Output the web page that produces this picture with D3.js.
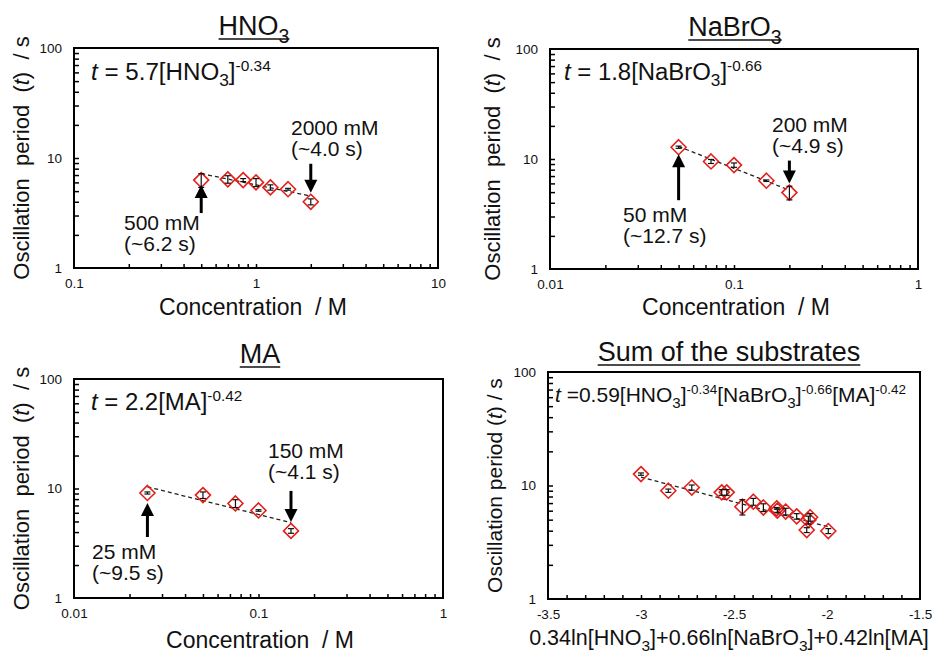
<!DOCTYPE html>
<html><head><meta charset="utf-8">
<script src="https://cdn.jsdelivr.net/npm/d3@7"></script>
<style>
body{margin:0;background:#fff;}
text{font-family:"Liberation Sans",Arial,sans-serif;fill:#111;}
</style></head><body>
<svg id="c" width="934" height="653"></svg>
<script>
// ---------- data ----------
const hno3Conc   = [0.5, 0.7, 0.85, 1.0, 1.2, 1.5, 2.0];
const hno3Period = [6.3, 6.4, 6.3, 6.0, 5.4, 5.2, 4.0];
const hno3Err    = [0.9, 0.5, 0.2, 0.5, 0.3, 0.1, 0.25];

const nabro3Conc   = [0.05, 0.075, 0.1, 0.15, 0.2];
const nabro3Period = [12.8, 9.5, 8.8, 6.35, 4.95];
const nabro3Err    = [0.3, 0.4, 0.4, 0.1, 0.7];

const maConc   = [0.025, 0.05, 0.075, 0.1, 0.15];
const maPeriod = [9.1, 8.7, 7.3, 6.3, 4.1];
const maErr    = [0.2, 0.6, 0.6, 0.1, 0.2];

const sumX      = [-3.0, -2.853, -2.727, -2.566, -2.539, -2.455, -2.396, -2.342, -2.27, -2.267, -2.222, -2.163, -2.091, -2.10, -2.109, -1.993];
const sumPeriod = [12.6, 9.0, 9.6, 8.7, 8.7, 6.5, 7.2, 6.4, 6.3, 6.0, 5.9, 5.35, 5.25, 4.97, 4.05, 3.97];
const sumErr    = [0.3, 0.3, 0.5, 0.5, 0.5, 1.0, 0.5, 0.5, 0.1, 0.2, 0.4, 0.3, 0.4, 0.4, 0.2, 0.2];

// power-law fits t = A * c^B  (sum panel: t = A * exp(-X))
const fitA = [5.7, 1.8, 2.2, 0.59];
const fitB = [-0.34, -0.66, -0.42, -1];

const yTickLabels = [1, 10, 100];
const xTickLabelsHNO3 = [0.1, 1, 10];
const xTickLabelsNaBrO3 = [0.01, 0.1, 1];
const xTickLabelsMA = [0.01, 0.1, 1];
const xTickLabelsSum = [-3.5, -3, -2.5, -2, -1.5];

// ---------- drawing ----------
const svg = d3.select("#c");
const RED = "#e3201b";

function logMinor(lo, hi){
  const out=[];
  for(let d=lo; d<hi; d*=10){ for(let k=1;k<10;k++){ const v=+(d*k).toPrecision(3); if(v>lo && v<hi) out.push(v);} }
  return out;
}

function rich(g, x, y, parts, size, anchor, stretch){
  const t = g.append("text").attr("font-size",size)
    .attr("text-anchor",anchor||"start").style("white-space","pre");
  if(stretch){ t.attr("x",0).attr("y",0).attr("transform",`translate(${x},${y}) scale(${stretch},1)`); }
  else { t.attr("x",x).attr("y",y); }
  let shift=0;
  parts.forEach(p=>{
    const ts = t.append("tspan").text(p.t);
    let target=0;
    if(p.s==="sub"){ target=size*0.28; ts.attr("font-size",size*0.72); }
    else if(p.s==="sup"){ target=-size*0.4; ts.attr("font-size",size*0.64); }
    if(p.i) ts.attr("font-style","italic");
    ts.attr("dy", target-shift); shift=target;
  });
  return t;
}

function arrow(g, x, yTail, yTip){
  const dir = yTip>yTail ? 1 : -1;
  const head = 13, hw = 6.5;
  g.append("line").attr("x1",x).attr("x2",x).attr("y1",yTail).attr("y2",yTip-dir*head+dir*1)
    .attr("stroke","#000").attr("stroke-width",3);
  g.append("path").attr("d",`M${x},${yTip} L${x-hw},${yTip-dir*head} L${x+hw},${yTip-dir*head} Z`).attr("fill","#000");
}

function panel(cfg){
  const g = svg.append("g");
  const x = cfg.log ? d3.scaleLog().domain(cfg.xDomain).range([cfg.x0,cfg.x1])
                    : d3.scaleLinear().domain(cfg.xDomain).range([cfg.x0,cfg.x1]);
  const y = d3.scaleLog().domain([1,100]).range([cfg.y1,cfg.y0]);

  // minor/major inward ticks
  g.append("g").attr("transform",`translate(${cfg.x0},0)`)
    .call(d3.axisLeft(y).tickValues(logMinor(1,100)).tickSize(-5).tickFormat(""))
    .call(a=>a.select(".domain").remove())
    .selectAll("line").attr("stroke","#000").attr("stroke-width",1.5);
  const xt = cfg.log ? logMinor(cfg.xDomain[0],cfg.xDomain[1]) : d3.range(-3.4,-1.55,0.1).map(v=>+v.toFixed(1));
  g.append("g").attr("transform",`translate(0,${cfg.y1})`)
    .call(d3.axisBottom(x).tickValues(xt).tickSize(-4).tickFormat(""))
    .call(a=>a.select(".domain").remove())
    .selectAll("line").attr("stroke","#000").attr("stroke-width",1.5);

  // tick labels
  g.append("g").attr("transform",`translate(${cfg.x0},0)`)
    .call(d3.axisLeft(y).tickValues(yTickLabels).tickSize(0).tickPadding(12).tickFormat(d3.format("d")))
    .call(a=>a.select(".domain").remove())
    .selectAll("text").attr("font-size",13.5).attr("font-family","Liberation Sans, Arial, sans-serif").attr("fill","#222");
  g.append("g").attr("transform",`translate(0,${cfg.y1})`)
    .call(d3.axisBottom(x).tickValues(cfg.xLabels).tickSize(0).tickPadding(10).tickFormat(d=>String(d)))
    .call(a=>a.select(".domain").remove())
    .selectAll("text").attr("font-size",13.5).attr("font-family","Liberation Sans, Arial, sans-serif").attr("fill","#222");

  // frame
  g.append("rect").attr("x",cfg.x0).attr("y",cfg.y0).attr("width",cfg.x1-cfg.x0).attr("height",cfg.y1-cfg.y0)
    .attr("fill","none").attr("stroke","#000").attr("stroke-width",2);

  // fit line
  const A=fitA[cfg.idx], B=fitB[cfg.idx];
  const f = cfg.log ? (c=>A*Math.pow(c,B)) : (X=>A*Math.exp(-X));
  const xs = cfg.fitRange;
  const pts = d3.range(0,41).map(i=>{const t=i/40; const c = cfg.log ? Math.exp(Math.log(xs[0])+t*(Math.log(xs[1])-Math.log(xs[0]))) : xs[0]+t*(xs[1]-xs[0]); return [x(c), y(f(c))];});
  g.append("path").attr("d",d3.line()(pts)).attr("fill","none").attr("stroke","#222")
    .attr("stroke-width",1.3).attr("stroke-dasharray","4,3");

  // points
  const data = cfg.xs.map((c,i)=>({c, t:cfg.ts[i], e:cfg.es[i]}));
  const r=7.5;
  g.selectAll(".pt").data(data).enter().append("path")
    .attr("d",d=>`M${x(d.c)},${y(d.t)-r} L${x(d.c)+r},${y(d.t)} L${x(d.c)},${y(d.t)+r} L${x(d.c)-r},${y(d.t)} Z`)
    .attr("fill","none").attr("stroke",RED).attr("stroke-width",1.6);
  const eb = g.selectAll(".eb").data(data).enter().append("g");
  eb.append("line").attr("x1",d=>x(d.c)).attr("x2",d=>x(d.c)).attr("y1",d=>y(d.t+d.e)).attr("y2",d=>y(d.t-d.e))
    .attr("stroke","#111").attr("stroke-width",1.2);
  eb.append("line").attr("x1",d=>x(d.c)-3).attr("x2",d=>x(d.c)+3).attr("y1",d=>y(d.t+d.e)).attr("y2",d=>y(d.t+d.e))
    .attr("stroke","#111").attr("stroke-width",1.2);
  eb.append("line").attr("x1",d=>x(d.c)-3).attr("x2",d=>x(d.c)+3).attr("y1",d=>y(d.t-d.e)).attr("y2",d=>y(d.t-d.e))
    .attr("stroke","#111").attr("stroke-width",1.2);

  // title with underline
  const tt = rich(g, cfg.titleX, cfg.titleY, cfg.title, 27, "middle");
  const bb = tt.node().getBBox();
  g.append("line").attr("x1",bb.x).attr("x2",bb.x+bb.width).attr("y1",cfg.titleY+4).attr("y2",cfg.titleY+4)
    .attr("stroke","#111").attr("stroke-width",1.6);

  // equation
  rich(g, cfg.eqX, cfg.eqY, cfg.eq, cfg.eqSize, "start", cfg.eqStretch);

  // axis labels
  rich(g, 0, 0, cfg.yLabel, cfg.yLabelSize, "middle")
    .attr("transform",`translate(${cfg.yLabelX},${(cfg.y0+cfg.y1)/2}) rotate(-90)`);
  rich(g, cfg.xLabelX, cfg.xLabelY, cfg.xLabel, cfg.xLabelSize, "middle");

  // annotations
  (cfg.ann||[]).forEach(a=>{
    const px = x(a.c), py = y(a.t);
    arrow(g, px, py+a.tail, py+a.tip);
    rich(g, a.lx, a.ly, [{t:a.l1}], 21);
    rich(g, a.lx, a.ly+21, [{t:a.l2}], 21);
  });
}

const yLab = [{t:"Oscillation  period  ("},{t:"t",i:true},{t:")  / s"}];
const yLab4 = [{t:"Oscillation period ("},{t:"t",i:true},{t:") / s"}];
const xLabConc = [{t:"Concentration  / M"}];

panel({idx:0, log:true, x0:74,x1:438,y0:48,y1:268, xDomain:[0.1,10], xLabels:xTickLabelsHNO3,
  xs:hno3Conc, ts:hno3Period, es:hno3Err, fitRange:[0.5,2.0],
  title:[{t:"HNO"},{t:"3",s:"sub"}], titleX:254, titleY:35,
  eq:[{t:"t",i:true},{t:" = 5.7[HNO"},{t:"3",s:"sub"},{t:"]"},{t:"-0.34",s:"sup"}], eqX:91, eqY:80, eqSize:23, eqStretch:1.05,
  yLabel:yLab, yLabelSize:22, yLabelX:29, xLabel:xLabConc, xLabelSize:23, xLabelX:253, xLabelY:315,
  ann:[{c:0.5,t:6.3,tail:33,tip:5,lx:124,ly:230,l1:"500 mM",l2:"(~6.2 s)"},
       {c:2.0,t:4.0,tail:-38,tip:-9,lx:291,ly:135,l1:"2000 mM",l2:"(~4.0 s)"}]});

panel({idx:1, log:true, x0:550,x1:918,y0:49,y1:269, xDomain:[0.01,1], xLabels:xTickLabelsNaBrO3,
  xs:nabro3Conc, ts:nabro3Period, es:nabro3Err, fitRange:[0.05,0.2],
  title:[{t:"NaBrO"},{t:"3",s:"sub"}], titleX:735, titleY:36,
  eq:[{t:"t",i:true},{t:" = 1.8[NaBrO"},{t:"3",s:"sub"},{t:"]"},{t:"-0.66",s:"sup"}], eqX:564, eqY:80, eqSize:23, eqStretch:1.04,
  yLabel:yLab, yLabelSize:22, yLabelX:500, xLabel:xLabConc, xLabelSize:23, xLabelX:736, xLabelY:315,
  ann:[{c:0.05,t:12.8,tail:53,tip:7,lx:623,ly:222,l1:"50 mM",l2:"(~12.7 s)"},
       {c:0.2,t:4.95,tail:-32,tip:-9,lx:772,ly:132,l1:"200 mM",l2:"(~4.9 s)"}]});

panel({idx:2, log:true, x0:74,x1:443,y0:379,y1:598, xDomain:[0.01,1], xLabels:xTickLabelsMA,
  xs:maConc, ts:maPeriod, es:maErr, fitRange:[0.025,0.15],
  title:[{t:"MA"}], titleX:260, titleY:363,
  eq:[{t:"t",i:true},{t:" = 2.2[MA]"},{t:"-0.42",s:"sup"}], eqX:91, eqY:410, eqSize:23, eqStretch:1.04,
  yLabel:yLab, yLabelSize:22, yLabelX:29, xLabel:xLabConc, xLabelSize:23, xLabelX:260, xLabelY:648,
  ann:[{c:0.025,t:9.1,tail:44,tip:10,lx:92,ly:559,l1:"25 mM",l2:"(~9.5 s)"},
       {c:0.15,t:4.1,tail:-40,tip:-9,lx:268,ly:458,l1:"150 mM",l2:"(~4.1 s)"}]});

panel({idx:3, log:false, x0:548,x1:920,y0:372,y1:599, xDomain:[-3.5,-1.5], xLabels:xTickLabelsSum,
  xs:sumX, ts:sumPeriod, es:sumErr, fitRange:[-3.0,-1.98],
  title:[{t:"Sum of the substrates"}], titleX:729, titleY:361,
  eq:[{t:"t",i:true},{t:" =0.59[HNO"},{t:"3",s:"sub"},{t:"]"},{t:"-0.34",s:"sup"},{t:"[NaBrO"},{t:"3",s:"sub"},{t:"]"},{t:"-0.66",s:"sup"},{t:"[MA]"},{t:"-0.42",s:"sup"}],
  eqX:555, eqY:402, eqSize:21,
  yLabel:yLab4, yLabelSize:21, yLabelX:502,
  xLabel:[{t:"0.34ln[HNO"},{t:"3",s:"sub"},{t:"]+0.66ln[NaBrO"},{t:"3",s:"sub"},{t:"]+0.42ln[MA]"}], xLabelSize:21.5, xLabelX:729, xLabelY:645});
</script></body></html>
